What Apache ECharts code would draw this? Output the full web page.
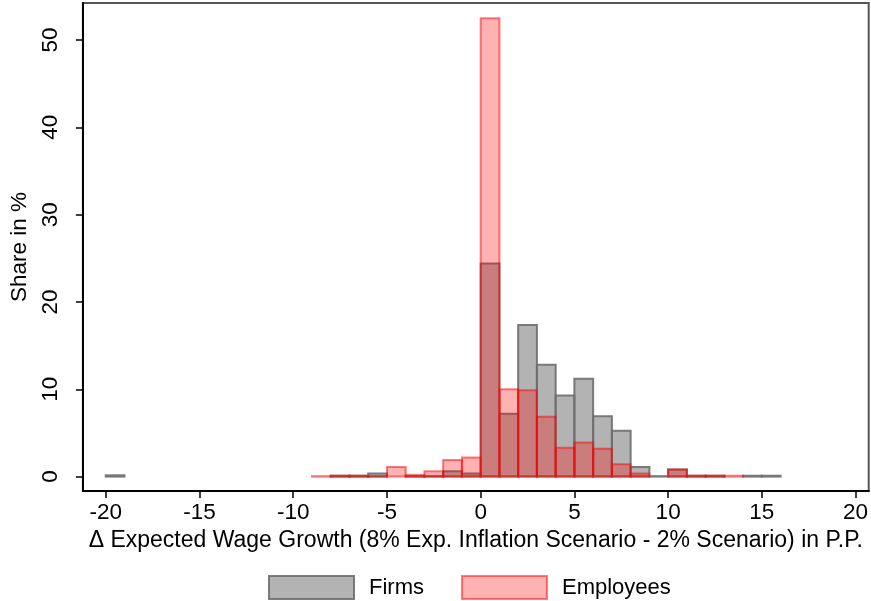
<!DOCTYPE html>
<html>
<head>
<meta charset="utf-8">
<script src="https://cdn.jsdelivr.net/npm/echarts@6/dist/echarts.min.js"></script>
<style>
  html, body { margin: 0; padding: 0; background: #fff; }
  #chart { width: 871px; height: 601px; }
</style>
</head>
<body>
<div id="chart"></div>
<script>
// Histogram bins: each bin covers [start, start + 1) percentage points
const binWidth = 1;
const binStarts = [-20, -19, -18, -17, -16, -15, -14, -13, -12, -11, -10, -9, -8, -7, -6, -5, -4, -3, -2, -1,
                   0, 1, 2, 3, 4, 5, 6, 7, 8, 9, 10, 11, 12, 13, 14, 15];

// Share (%) of respondents per bin
const firmsShare = [0.15, 0, 0, 0, 0, 0, 0, 0, 0, 0, 0, 0, 0.1, 0.1, 0.35, 0, 0.05, 0.05, 0.6, 0.35,
                    24.4, 7.2, 17.35, 12.8, 9.3, 11.2, 6.9, 5.25, 1.1, 0.05, 0.8, 0.1, 0.1, 0, 0.1, 0.1];
const employeesShare = [0, 0, 0, 0, 0, 0, 0, 0, 0, 0, 0, 0.05, 0.1, 0.1, 0.05, 1.1, 0.2, 0.6, 1.9, 2.2,
                        52.5, 10.0, 9.9, 6.85, 3.3, 3.9, 3.2, 1.4, 0.35, 0, 0.8, 0.1, 0.1, 0.1, 0, 0];

const xTicks = [-20, -15, -10, -5, 0, 5, 10, 15, 20];
const yTicks = [0, 10, 20, 30, 40, 50];

const seriesNames = ['Firms', 'Employees'];

const FONT = "'Liberation Sans', Arial, sans-serif";

const firmsStyle = { color: 'rgba(128,128,128,0.6)', borderColor: 'rgba(110,110,110,0.9)', borderWidth: 2 };
const employeesStyle = { color: 'rgba(255,0,0,0.3)', borderColor: 'rgba(255,0,0,0.5)', borderWidth: 2 };

function toPairs(values) {
  return binStarts.map((s, i) => [s, values[i]]);
}

function makeRenderer(style) {
  return function (params, api) {
    const start = api.value(0);
    const v = api.value(1);
    if (!v) return null;
    const topLeft = api.coord([start, v]);
    const bottomRight = api.coord([start + binWidth, 0]);
    return {
      type: 'rect',
      shape: {
        x: topLeft[0],
        y: topLeft[1],
        width: bottomRight[0] - topLeft[0],
        height: bottomRight[1] - topLeft[1]
      },
      style: {
        fill: style.color,
        stroke: style.borderColor,
        lineWidth: style.borderWidth
      }
    };
  };
}

const chart = echarts.init(document.getElementById('chart'), null, { renderer: 'canvas' });

chart.setOption({
  animation: false,
  backgroundColor: '#fff',
  textStyle: { fontFamily: FONT },
  grid: {
    left: 77, right: 2, top: 3, bottom: 110,
    show: true,
    borderColor: '#555',
    borderWidth: 2,
    backgroundColor: 'transparent'
  },
  legend: {
    left: 268,
    top: 575,
    padding: 0,
    itemWidth: 85,
    itemHeight: 23,
    itemGap: 37,
    icon: 'rect',
    textStyle: { fontSize: 22, color: '#000', fontFamily: FONT, padding: [0, 0, 0, 10] },
    data: [
      { name: seriesNames[0], itemStyle: firmsStyle },
      { name: seriesNames[1], itemStyle: employeesStyle }
    ]
  },
  xAxis: {
    type: 'value',
    min: -21.22,
    max: 20.70,
    name: 'Δ Expected Wage Growth (8% Exp. Inflation Scenario - 2% Scenario) in P.P.',
    nameLocation: 'middle',
    nameGap: 34,
    nameTextStyle: { fontSize: 23, color: '#000', fontFamily: FONT },
    axisLine: { show: true, onZero: false, lineStyle: { color: '#000', width: 2 } },
    axisTick: { show: true, length: 7, customValues: xTicks, lineStyle: { color: '#000', width: 1.5 } },
    axisLabel: { customValues: xTicks, fontSize: 22.5, color: '#000', margin: 10, fontFamily: FONT },
    splitLine: { show: false }
  },
  yAxis: {
    type: 'value',
    min: -1.65,
    max: 54.24,
    name: 'Share in %',
    nameLocation: 'middle',
    nameGap: 34,
    nameRotate: 90,
    nameTextStyle: { fontSize: 22.5, color: '#000', fontFamily: FONT },
    axisLine: { show: true, onZero: false, lineStyle: { color: '#000', width: 2 } },
    axisTick: { show: true, length: 7, customValues: yTicks, lineStyle: { color: '#000', width: 1.5 } },
    axisLabel: { customValues: yTicks, rotate: 90, fontSize: 22.5, color: '#000', margin: 21, fontFamily: FONT },
    splitLine: { show: false }
  },
  series: [
    {
      name: seriesNames[0],
      type: 'custom',
      renderItem: makeRenderer(firmsStyle),
      itemStyle: firmsStyle,
      encode: { x: 0, y: 1 },
      data: toPairs(firmsShare),
      clip: true
    },
    {
      name: seriesNames[1],
      type: 'custom',
      renderItem: makeRenderer(employeesStyle),
      itemStyle: employeesStyle,
      encode: { x: 0, y: 1 },
      data: toPairs(employeesShare),
      clip: true
    }
  ]
});
</script>
</body>
</html>
